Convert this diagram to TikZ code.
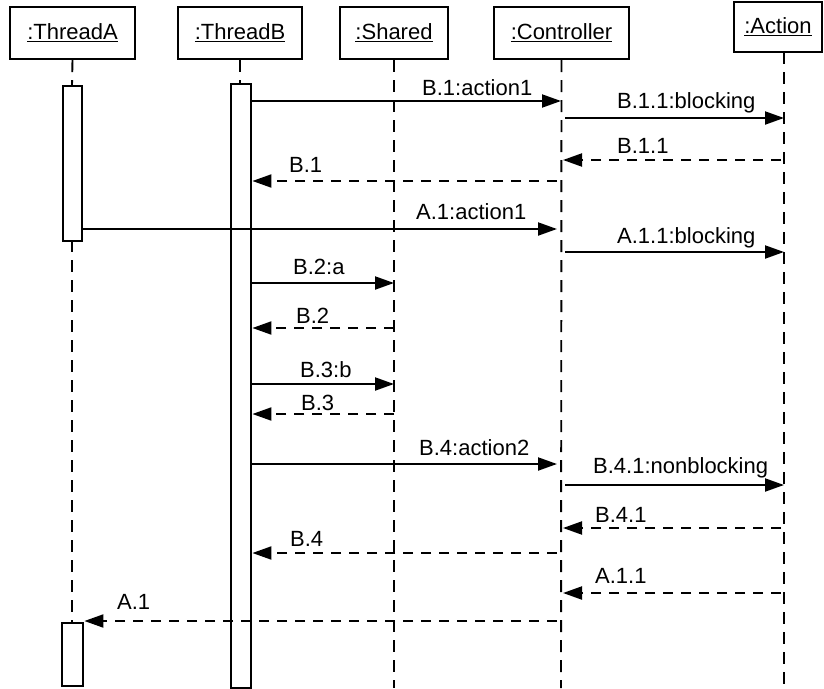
\documentclass[tikz,border=0pt]{standalone}
\usepackage{fontspec}
\setmainfont{Liberation Sans}
\usetikzlibrary{arrows.meta}

\tikzset{
  txt/.style={font=\fontsize{22}{26}\selectfont},
  obj/.style={draw, line width=2.4pt, minimum height=52pt, inner sep=0pt, txt},
  life/.style={line width=1.9pt, dash pattern=on 12pt off 8pt},
  act/.style={draw, line width=2.4pt, fill=white, inner sep=0pt, anchor=north west},
  call/.style={line width=2pt, -{Triangle[length=19pt,width=13pt]}},
  ret/.style={call, dash pattern=on 10pt off 8pt},
  lbl/.style={anchor=base west, inner sep=0pt, txt}
}

\begin{document}
\begin{tikzpicture}[x=1pt, y=-1pt]
  \useasboundingbox (0,0) rectangle (824,688);

  % object headers
  \node[obj, minimum width=125pt] (ta) at (72.5,33) {\underline{:ThreadA}};
  \node[obj, minimum width=124pt] (tb) at (240,33) {\underline{:ThreadB}};
  \node[obj, minimum width=108pt] (shb) at (394,33) {\underline{:Shared}};
  \node[obj, minimum width=135pt] (ctb) at (561.5,33) {\underline{:Controller}};
  \node[obj, minimum width=88pt, minimum height=50pt] (acb) at (778,27) {\underline{:Action}};

  % lifeline x positions
  \coordinate (sh) at (394,0);
  \coordinate (ct) at (561,0);
  \coordinate (ctL) at (557,0);
  \coordinate (ctR) at (565,0);
  \coordinate (ctI) at (563,0);
  \coordinate (ac) at (784,0);
  \coordinate (acO) at (781,0);

  % lifelines
  \draw[life] (ta.south) -- (72,85);
  \draw[life] (72,240) -- (72,622);
  \draw[life] (tb.south) -- (240,83);
  \draw[life] (shb.south) -- (394,688);
  \draw[life] (ctb.south) -- (561,688);
  \draw[life] (784,52) -- (784,688);

  % activation bars
  \node[act, minimum width=19pt, minimum height=155pt] (aA1) at (62,85) {};
  \node[act, minimum width=21pt, minimum height=63pt] (aA2) at (61,622) {};
  \node[act, minimum width=20pt, minimum height=604pt] (aB) at (230,83) {};

  % messages
  \draw[call] (aB.east |- 0,101) -- (ct |- 0,101);
  \draw[call] (ctR |- 0,118) -- (ac |- 0,118);
  \draw[ret] (acO |- 0,160) -- (ctI |- 0,160);
  \draw[ret] (ctL |- 0,181) -- (aB.east |- 0,181);
  \draw[call] (aA1.east |- 0,229) -- (ctL |- 0,229);
  \draw[call] (ctR |- 0,252) -- (ac |- 0,252);
  \draw[call] (aB.east |- 0,283) -- (sh |- 0,283);
  \draw[ret] (sh |- 0,328) -- (aB.east |- 0,328);
  \draw[call] (aB.east |- 0,384) -- (sh |- 0,384);
  \draw[ret] (sh |- 0,414) -- (aB.east |- 0,414);
  \draw[call] (aB.east |- 0,464) -- (ctL |- 0,464);
  \draw[call] (ctR |- 0,485) -- (ac |- 0,485);
  \draw[ret] (acO |- 0,528) -- (ctI |- 0,528);
  \draw[ret] (ctL |- 0,553) -- (aB.east |- 0,553);
  \draw[ret] (acO |- 0,593) -- (ctI |- 0,593);
  \draw[ret] (ctL |- 0,621) -- (aA2.east |- 0,621);

  % message labels
  \node[lbl] (l1) at (422,95) {B.1:action1};
  \node[lbl] (l2) at (617,108) {B.1.1:blocking};
  \node[lbl] (l3) at (617,153) {B.1.1};
  \node[lbl] (l4) at (289,172) {B.1};
  \node[lbl] (l5) at (416,219) {A.1:action1};
  \node[lbl] (l6) at (617,243) {A.1.1:blocking};
  \node[lbl] (l7) at (293,274) {B.2:a};
  \node[lbl] (l8) at (296,323) {B.2};
  \node[lbl] (l9) at (300,377) {B.3:b};
  \node[lbl] (l10) at (301,410) {B.3};
  \node[lbl] (l11) at (419,455) {B.4:action2};
  \node[lbl] (l12) at (593,473) {B.4.1:nonblocking};
  \node[lbl] (l13) at (595,522) {B.4.1};
  \node[lbl] (l14) at (290,546) {B.4};
  \node[lbl] (l15) at (595,583) {A.1.1};
  \node[lbl] (l16) at (117,609) {A.1};
\end{tikzpicture}
\end{document}
